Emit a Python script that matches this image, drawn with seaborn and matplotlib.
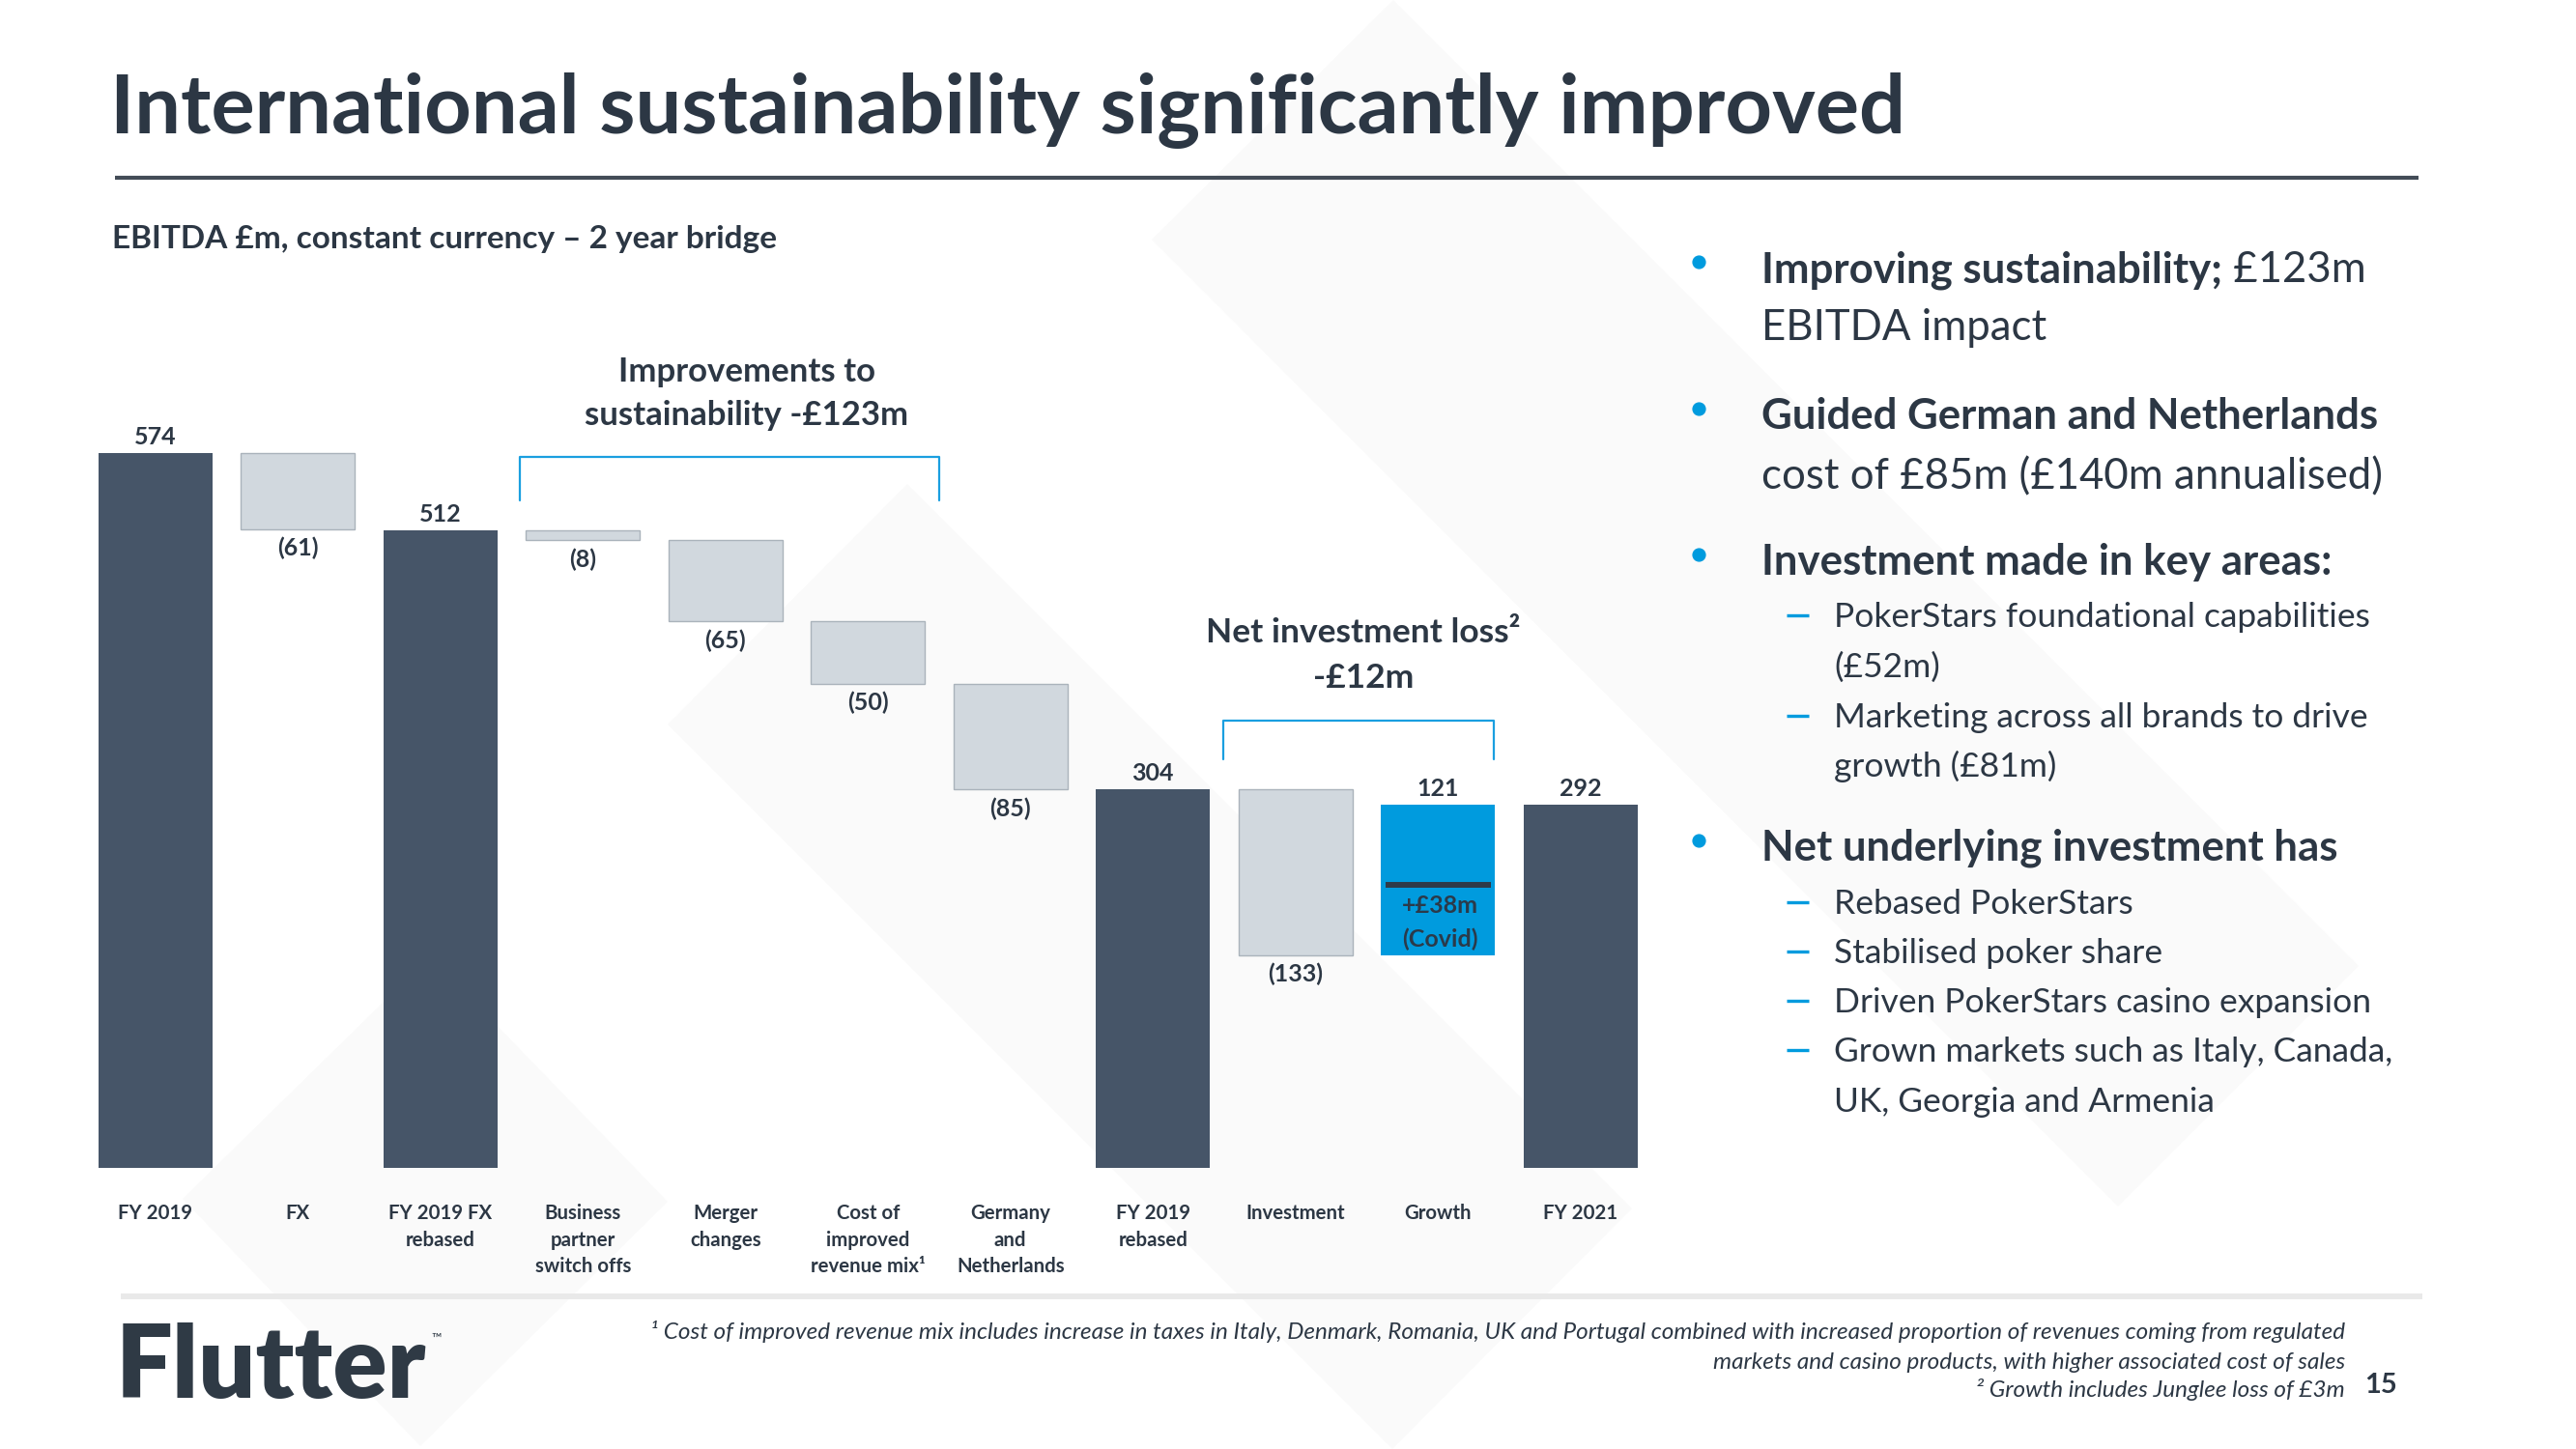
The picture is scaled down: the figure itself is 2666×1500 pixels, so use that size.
#!/usr/bin/python3

import pandas as pd
import matplotlib
matplotlib.use('Agg')
from matplotlib import pyplot as plt
from matplotlib.patches import Polygon
import seaborn as sns


categories = ['FY 2019', 'FX', 'FY 2019 FX\nrebased', 'Business\npartner\nswitch offs',
              'Merger\nchanges', 'Cost of\nimproved\nrevenue mix¹', 'Germany\nand\nNetherlands',
              'FY 2019\nrebased', 'Investment', 'Growth', 'FY 2021']
values = [574, -61, 512, -8, -65, -50, -85, 304, -133, 121, 292]
kinds = ['total', 'step', 'total', 'step', 'step', 'step', 'step',
         'total', 'step', 'growth', 'total']
covid_mark = 227

DARK = '#465568'
LIGHT = '#d1d8de'
BLUE = '#009bde'
LINE_BLUE = '#1a9fe0'
TEXT = '#2c3744'


def waterfall(values, kinds):
    '''
        Turning the bridge values into floating bar bottoms / heights
    '''
    bottoms, heights = [], []
    level = 0
    for v, k in zip(values, kinds):
        if k == 'total':
            bottoms.append(0)
            heights.append(v)
            level = v
        else:
            bottoms.append(level + min(v, 0))
            heights.append(abs(v))
            level += v
    return bottoms, heights


def drawBackground(bg):
    # faint brand chevrons behind the slide
    shapes = [
        [(1442, 0), (2441, 1000), (2192, 1249), (1192, 248)],
        [(939, 501), (1689, 1251), (1441, 1500), (691, 750)],
        [(445, 990), (691, 1244), (435, 1497), (189, 1241)],
    ]
    for s in shapes:
        bg.add_patch(Polygon(s, closed=True, facecolor='#fafafa',
                             edgecolor='none', zorder=0))


def drawSlideText(bg):
    bg.text(114, 137, 'International sustainability significantly improved',
            fontsize=61, fontweight='bold', color=TEXT, va='baseline')
    bg.plot([119, 2503], [184, 184], color='#434c57', lw=3,
            solid_capstyle='butt')
    bg.text(116, 257, 'EBITDA £m, constant currency – 2 year bridge',
            fontsize=24, fontweight='bold', color=TEXT, va='baseline')

    # chart annotations
    bg.text(773, 395, 'Improvements to', fontsize=25, fontweight='bold',
            color=TEXT, ha='center', va='baseline')
    bg.text(773, 440, 'sustainability -£123m', fontsize=25, fontweight='bold',
            color=TEXT, ha='center', va='baseline')
    bg.text(1411, 665, 'Net investment loss²', fontsize=25.5, fontweight='bold',
            color=TEXT, ha='center', va='baseline')
    bg.text(1411, 712, '-£12m', fontsize=25.5, fontweight='bold',
            color=TEXT, ha='center', va='baseline')

    # right hand commentary
    lines = [
        (292, 0, 'Improving sustainability;', ' £123m', True),
        (352, 0, '', 'EBITDA impact', False),
        (444, 0, 'Guided German and Netherlands', '', True),
        (506, 0, '', 'cost of £85m (£140m annualised)', False),
        (595, 0, 'Investment made in key areas:', '', True),
        (649, 1, '', 'PokerStars foundational capabilities', True),
        (701, 1, '', '(£52m)', False),
        (753, 1, '', 'Marketing across all brands to drive', True),
        (804, 1, '', 'growth (£81m)', False),
        (891, 0, 'Net underlying investment has', '', True),
        (946, 1, '', 'Rebased PokerStars', True),
        (997, 1, '', 'Stabilised poker share', True),
        (1048, 1, '', 'Driven PokerStars casino expansion', True),
        (1099, 1, '', 'Grown markets such as Italy, Canada,', True),
        (1151, 1, '', 'UK, Georgia and Armenia', False),
    ]
    for y, level, bold, regular, marker in lines:
        size = 31.5 if level == 0 else 25.5
        x = 1823 if level == 0 else 1898
        if marker and level == 0:
            bg.scatter([1758], [y - 21], s=85, color=BLUE, zorder=3)
        elif marker:
            bg.plot([1849, 1872], [y - 12, y - 12], color=BLUE, lw=2.4,
                    solid_capstyle='butt')
        if bold:
            t = bg.text(x, y, bold, fontsize=size, fontweight='bold',
                        color=TEXT, va='baseline')
            if regular:
                bg.annotate(regular, xy=(1, 0), xycoords=t, fontsize=size,
                            color=TEXT, ha='left', va='bottom')
        else:
            bg.text(x, y, regular, fontsize=size, color=TEXT, va='baseline')

    # footer
    bg.plot([125, 2507], [1342, 1342], color='#e9e9e9', lw=4.3,
            solid_capstyle='butt')
    notes = [
        (1386, '¹ Cost of improved revenue mix includes increase in taxes in Italy, Denmark, '
               'Romania, UK and Portugal combined with increased proportion of revenues '
               'coming from regulated'),
        (1417, 'markets and casino products, with higher associated cost of sales'),
        (1446, '² Growth includes Junglee loss of £3m'),
    ]
    for y, s in notes:
        bg.text(2427, y, s, fontsize=17.5, fontstyle='italic', color=TEXT,
                ha='right', va='baseline')
    bg.text(2447, 1442, '15', fontsize=21, fontweight='bold', color=TEXT,
            va='baseline')
    bg.text(120, 1447, 'Flutter', fontsize=75, fontweight='heavy',
            color='#2f3a45', va='baseline')
    bg.text(446, 1390, '™', fontsize=10, color='#2f3a45', va='baseline')


def plotBridge(ax, bg):
    bottoms, heights = waterfall(values, kinds)
    df = pd.DataFrame({'step': categories, 'height': heights,
                       'bottom': bottoms})

    sns.barplot(data=df, x='step', y='height', bottom=df['bottom'].to_numpy(),
                width=0.8, color=LIGHT, saturation=1, ax=ax)

    for p, k in zip(ax.patches, kinds):
        if k == 'total':
            p.set_facecolor(DARK)
            p.set_edgecolor('none')
        elif k == 'growth':
            p.set_facecolor(BLUE)
            p.set_edgecolor('none')
        else:
            p.set_facecolor(LIGHT)
            p.set_edgecolor('#aab3bb')
            p.set_linewidth(1)

    for i, (v, k, b, h) in enumerate(zip(values, kinds, bottoms, heights)):
        if k == 'step':
            ax.annotate('({})'.format(-v), xy=(i, b), xytext=(0, -8),
                        textcoords='offset pixels', ha='center', va='top',
                        fontsize=18, fontweight='bold', color=TEXT)
        else:
            ax.annotate(str(v), xy=(i, b + h), xytext=(0, 9),
                        textcoords='offset pixels', ha='center', va='baseline',
                        fontsize=18, fontweight='bold', color=TEXT)

    g = kinds.index('growth')
    ax.hlines(covid_mark, g - 0.37, g + 0.37, colors='#2f3a48', lw=4.3)
    ax.text(1490, 945, '+£38m', transform=bg.transData, fontsize=18,
            fontweight='bold', color='#2b3a4a', ha='center', va='baseline')
    ax.text(1490, 980, '(Covid)', transform=bg.transData, fontsize=18,
            fontweight='bold', color='#2b3a4a', ha='center', va='baseline')

    # brackets over the grouped steps
    for x0, x1, top, end in [(2.56, 5.50, 571, 536), (7.49, 9.39, 359, 328)]:
        ax.plot([x0, x0, x1, x1], [end, top, top, end], color=LINE_BLUE,
                lw=1.6, clip_on=False)

    ax.set_xlim(-0.5, len(categories) - 0.5)
    ax.set_ylim(0, 700)
    ax.set_yticks([])
    ax.set_xlabel('')
    ax.set_ylabel('')
    for s in ax.spines.values():
        s.set_visible(False)
    ax.tick_params(axis='x', length=0, pad=27, labelsize=14.7,
                   labelcolor=TEXT)
    for lbl in ax.get_xticklabels():
        lbl.set_fontweight('bold')
        lbl.set_linespacing(1.45)


if __name__ == '__main__':
    sns.set_style('white')
    plt.rcParams['font.family'] = ['Lato', 'DejaVu Sans']

    fig = plt.figure(figsize=(26.66, 15), dpi=100)
    fig.patch.set_facecolor('white')

    bg = fig.add_axes([0, 0, 1, 1])
    bg.set_xlim(0, 2666)
    bg.set_ylim(1500, 0)
    bg.axis('off')
    bg.set_zorder(0)

    drawBackground(bg)
    drawSlideText(bg)

    ax = fig.add_axes([87 / 2666, 291 / 1500, 1622.5 / 2666, 902.4 / 1500])
    ax.set_zorder(1)
    ax.set_facecolor('none')
    plotBridge(ax, bg)

    fig.savefig('out.png', dpi=100)
    plt.close(fig)
